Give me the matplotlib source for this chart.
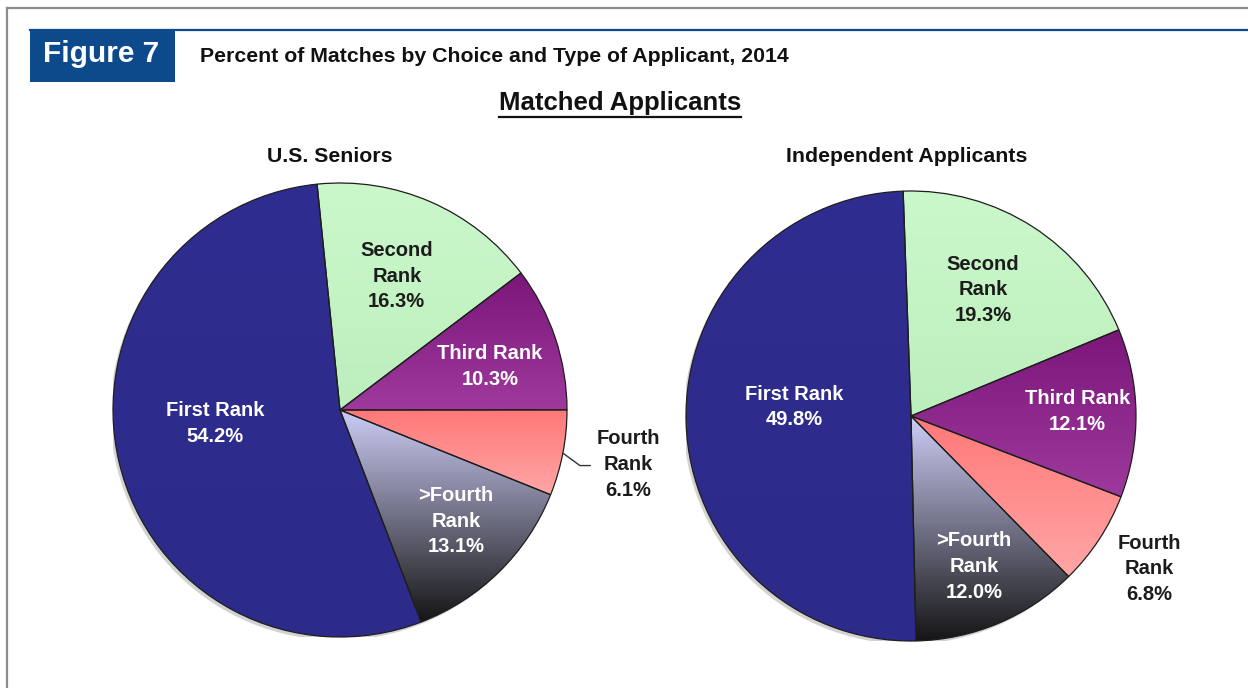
import numpy as np
import matplotlib.pyplot as plt
from matplotlib.colors import to_rgb
from matplotlib.patches import Rectangle, Circle

# --- data -----------------------------------------------------------------
RANK_NAMES = ['Second\nRank', 'Third Rank', 'Fourth\nRank', '>Fourth\nRank', 'First Rank']
SENIORS = [16.3, 10.3, 6.1, 13.1, 54.2]
INDEPENDENT = [19.3, 12.1, 6.8, 12.0, 49.8]

FIG_TAG = 'Figure 7'
TITLE = 'Percent of Matches by Choice and Type of Applicant, 2014'
HEADER = 'Matched Applicants'
PIE_TITLES = ['U.S. Seniors', 'Independent Applicants']

# --- style ----------------------------------------------------------------
W, H = 1248, 688
FONT = 'Liberation Sans'
NAVY = '#0d4a8c'
DARK_TEXT = '#1c1c1c'

# (top colour, bottom colour) of each wedge, same order as RANK_NAMES
WEDGE_FILL = [
    ('#cbf8cb', '#bdeebd'),
    ('#7a1779', '#9f3a9d'),
    ('#ff7878', '#ffa6a6'),
    ('#cccdf6', '#151515'),
    ('#2f2e90', '#2c2b8a'),
]
TEXT_COLORS = [DARK_TEXT, 'white', DARK_TEXT, 'white', 'white']

# pie centre / radius in pixels and start angle
PIES = [
    dict(values=SENIORS, cx=340, cy=410, r=227, start=95.8,
         label_xy=[(0.25, 0.59), (0.66, 0.19), (1.27, -0.24), (0.51, -0.49), (-0.55, -0.06)],
         leader=True),
    dict(values=INDEPENDENT, cx=911, cy=416, r=225, start=92.0,
         label_xy=[(0.32, 0.56), (0.74, 0.02), (1.06, -0.68), (0.28, -0.67), (-0.52, 0.04)],
         leader=False),
]


def fill_gradient(ax, wedge, top, bottom):
    """Paint a vertical gradient inside a wedge."""
    x0, y0, x1, y1 = wedge.get_path().get_extents().extents
    c0 = np.array(to_rgb(top))
    c1 = np.array(to_rgb(bottom))
    t = np.linspace(0, 1, 256)[:, None]
    img = (c0 * (1 - t) + c1 * t)[:, None, :]
    im = ax.imshow(img, extent=[x0, x1, y0, y1], origin='upper',
                   aspect='auto', interpolation='bilinear', zorder=1)
    im.set_clip_path(wedge)
    wedge.set_facecolor('none')
    wedge.set_zorder(2)


fig = plt.figure(figsize=(W / 100, H / 100), dpi=100)
fig.patch.set_facecolor('white')

# background axes in pixel coordinates for the frame and headings
bg = fig.add_axes([0, 0, 1, 1])
bg.set_xlim(0, W)
bg.set_ylim(H, 0)
bg.axis('off')

bg.plot([7, W], [8, 8], color='#8c8c8c', lw=1.6)
bg.plot([7, 7], [8, H], color='#8c8c8c', lw=1.6)
bg.plot([30, W], [30, 30], color=NAVY, lw=1.6)
bg.add_patch(Rectangle((30, 30), 145, 52, facecolor=NAVY, edgecolor='none'))
bg.text(101, 54, FIG_TAG, color='white', fontsize=21.5, fontweight='bold',
        family=FONT, ha='center', va='center')
bg.text(200, 56, TITLE, color='#111111', fontsize=15.3, fontweight='bold',
        family=FONT, ha='left', va='center')
hdr = bg.text(620, 103, HEADER, color='#111111', fontsize=18.5, fontweight='bold',
              family=FONT, ha='center', va='center')
bg.text(330, 157, PIE_TITLES[0], color='#111111', fontsize=15.3, fontweight='bold',
        family=FONT, ha='center', va='center')
bg.text(907, 157, PIE_TITLES[1], color='#111111', fontsize=15.3, fontweight='bold',
        family=FONT, ha='center', va='center')

# underline the header
fig.canvas.draw()
bb = hdr.get_window_extent().transformed(bg.transData.inverted())
bg.plot([bb.x0, bb.x1], [bb.y0 + 2, bb.y0 + 2], color='#111111', lw=1.6)

for spec in PIES:
    cx, cy, r = spec['cx'], spec['cy'], spec['r']
    ax = fig.add_axes([(cx - r) / W, 1 - (cy + r) / H, 2 * r / W, 2 * r / H])
    ax.add_patch(Circle((-0.012, -0.014), 1.0, facecolor='#b5b5b5',
                        edgecolor='none', alpha=0.6, zorder=0))
    wedges, _ = ax.pie(spec['values'], startangle=spec['start'], counterclock=False,
                       radius=1.0, colors=[f[0] for f in WEDGE_FILL],
                       wedgeprops=dict(edgecolor='#1e1e1e', linewidth=0.9))
    for w, (top, bottom) in zip(wedges, WEDGE_FILL):
        if top != bottom:
            fill_gradient(ax, w, top, bottom)

    for name, val, (lx, ly), col in zip(RANK_NAMES, spec['values'],
                                        spec['label_xy'], TEXT_COLORS):
        ax.text(lx, ly, f'{name}\n{val:.1f}%', color=col, fontsize=14.5,
                fontweight='bold', family=FONT, ha='center', va='center',
                linespacing=1.45, zorder=5)

    if spec['leader']:
        w = wedges[2]
        mid = np.deg2rad((w.theta1 + w.theta2) / 2)
        ex, ey = np.cos(mid), np.sin(mid)
        ax.plot([ex, ex + 0.075, ex + 0.12], [ey, ey - 0.055, ey - 0.055],
                color='#333333', lw=1.0, clip_on=False, zorder=5)

    ax.set_xlim(-1, 1)
    ax.set_ylim(-1, 1)
    ax.set_aspect('equal')
    ax.axis('off')

fig.savefig('out.png', dpi=100, facecolor='white')
